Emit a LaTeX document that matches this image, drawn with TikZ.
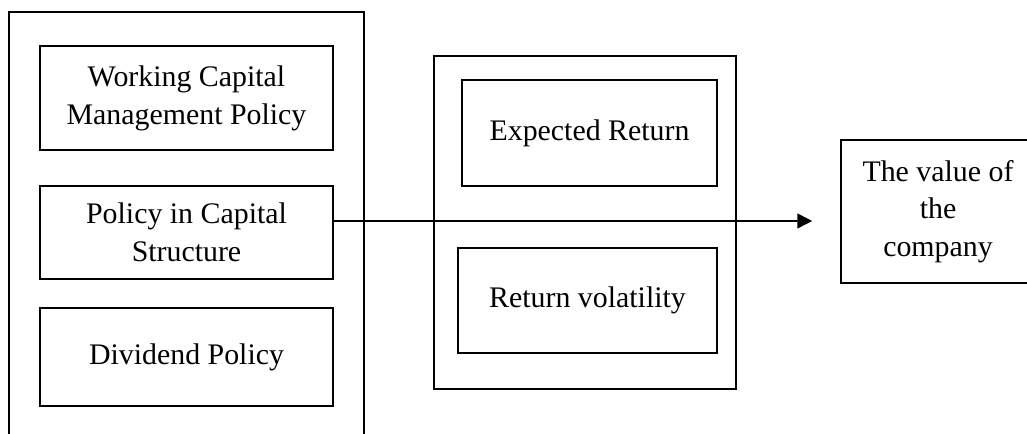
\documentclass[tikz,border=0pt]{standalone}
\usepackage{fontspec}
\setmainfont{Liberation Serif}
\usepackage{tikz}
\usetikzlibrary{arrows.meta}

\begin{document}
\begin{tikzpicture}[x=0.02cm, y=-0.02cm, line width=0.9pt,
    policy/.style={draw, align=center, inner sep=0pt,
      font=\fontsize{17}{21.5}\selectfont}]
  \clip (0,0) rectangle (1027,433);

  % frames
  \draw (9,12) rectangle (364,470);
  \draw (434,56) rectangle (736,389);

  \node[policy, minimum width=5.86cm, minimum height=2.08cm] (wcm) at (186.5,98) {Working Capital\\Management Policy};
  \node[policy, minimum width=5.86cm, minimum height=1.86cm] (pcs) at (186.5,232.5) {Policy in Capital\\Structure};
  \node[policy, minimum width=5.86cm, minimum height=1.96cm] (div) at (186.5,357) {Dividend Policy};

  \node[policy, minimum width=5.10cm, minimum height=2.12cm] (exp) at (589.5,133) {Expected Return};
  \node[policy, minimum width=5.18cm, minimum height=2.10cm] (vol) at (587.5,300.5) {Return volatility};

  \node[policy, minimum width=3.88cm, minimum height=2.86cm] (value) at (938,211.5) {The value of\\the\\company};

  \draw[-{Triangle[length=0.3cm, width=0.3cm]}, shorten >=0.56cm]
    ([yshift=0.23cm]pcs.east) -- ([yshift=-0.19cm]value.west);
\end{tikzpicture}
\end{document}
